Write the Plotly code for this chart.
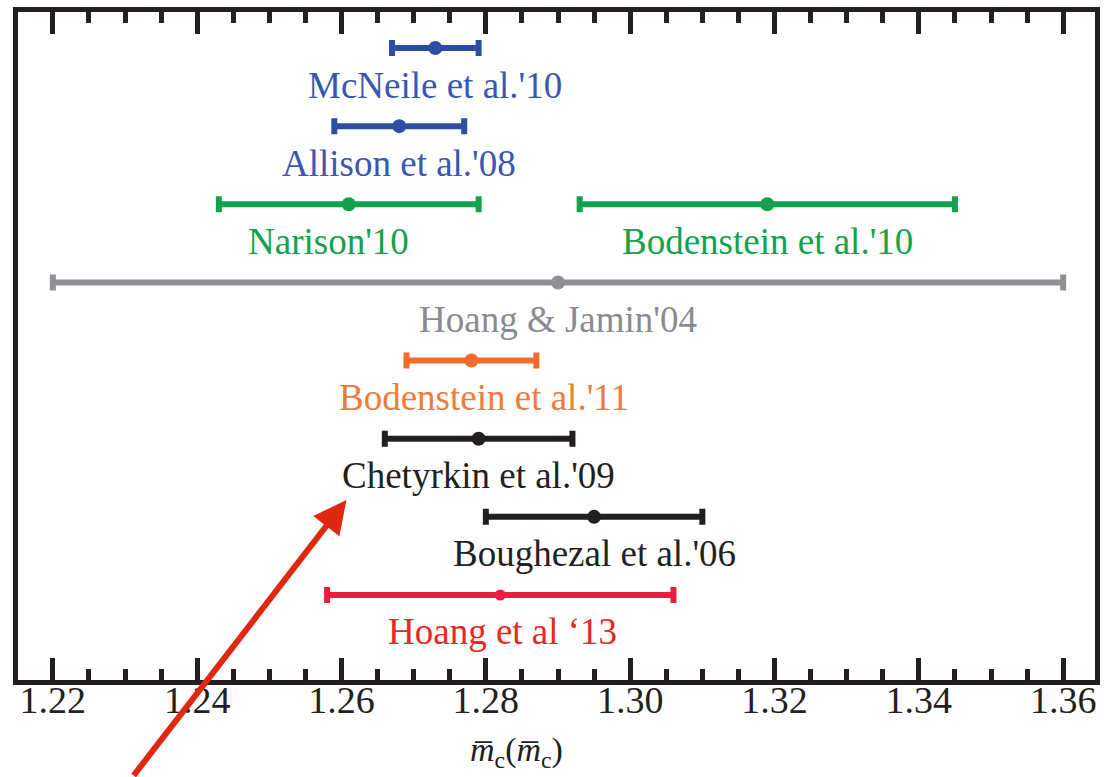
import plotly.graph_objects as go

# ---- data ----
labels = ["McNeile et al.'10", "Allison et al.'08", "Narison'10", "Bodenstein et al.'10",
          "Hoang & Jamin'04", "Bodenstein et al.'11", "Chetyrkin et al.'09",
          "Boughezal et al.'06", "Hoang et al ‘13"]
rows = [0, 1, 2, 2, 3, 4, 5, 6, 7]
centers = [1.273, 1.268, 1.261, 1.319, 1.290, 1.278, 1.279, 1.295, 1.282]
errors = [0.006, 0.009, 0.018, 0.026, 0.070, 0.009, 0.013, 0.015, 0.024]
bar_colors = ["#2e4ea4", "#2e4ea4", "#12a24c", "#12a24c", "#8f8f95",
              "#f26b2a", "#231f20", "#231f20", "#e81e3c"]
text_colors = ["#3a56b0", "#3a56b0", "#12a24c", "#12a24c", "#8a8a90",
               "#f07a3e", "#231f20", "#231f20", "#e8281c"]
label_xshift = [0, 0, -20, 0, 0, 13, 0, 0, 2]
tick_vals = [1.22, 1.24, 1.26, 1.28, 1.30, 1.32, 1.34, 1.36]
tick_text = ["1.22", "1.24", "1.26", "1.28", "1.30", "1.32", "1.34", "1.36"]

FONT = "Liberation Serif"

fig = go.Figure()
for i in range(len(labels)):
    fig.add_trace(go.Scatter(
        x=[centers[i]], y=[rows[i]], mode="markers",
        marker=dict(size=14 if i != 8 else 11, color=bar_colors[i]),
        error_x=dict(type="data", array=[errors[i]], color=bar_colors[i],
                     thickness=6, width=8),
        showlegend=False, hoverinfo="skip"))
    fig.add_annotation(x=centers[i], y=rows[i], text=labels[i], showarrow=False,
                       xshift=label_xshift[i], yshift=-37,
                       font=dict(family=FONT, size=37, color=text_colors[i]),
                       xanchor="center", yanchor="middle")

# dummy trace on top axis so ticks render
fig.add_trace(go.Scatter(x=[centers[0]], y=[rows[0]], xaxis="x2", mode="markers",
                         marker=dict(size=1, opacity=0), showlegend=False, hoverinfo="skip"))

xrange_ = [1.21517, 1.36441]
axis_common = dict(range=xrange_, tickvals=tick_vals, ticks="inside", ticklen=22,
                   tickwidth=4.5, tickcolor="#231f20",
                   minor=dict(dtick=0.005, tick0=1.22, ticks="inside", ticklen=11,
                              tickwidth=4.5, tickcolor="#231f20", showgrid=False),
                   showgrid=False, zeroline=False)

fig.update_layout(
    width=1104, height=777,
    margin=dict(l=18, r=4, t=12, b=97),
    plot_bgcolor="white", paper_bgcolor="white",
    xaxis=dict(**axis_common, ticktext=tick_text, showline=True, linewidth=5,
               linecolor="#231f20", mirror=True, ticklabelstandoff=-18,
               tickfont=dict(family=FONT, size=38, color="#231f20")),
    xaxis2=dict(**axis_common, overlaying="x", side="top", matches="x",
                showticklabels=False, showline=False),
    yaxis=dict(range=[8.088, -0.461], showticklabels=False, showgrid=False,
               zeroline=False, showline=True, linewidth=5, linecolor="#231f20",
               mirror=True, ticks=""),
)

# x-axis title
fig.add_annotation(xref="paper", yref="paper", x=(519 - 18) / 1082, y=-(752 - 680) / 668,
                   text="<i>m̅</i><sub>c</sub>(<i>m̅</i><sub>c</sub>)", showarrow=False,
                   font=dict(family=FONT, size=34, color="#231f20"),
                   xanchor="center", yanchor="middle")

# red arrow pointing to Chetyrkin et al.'09
fig.add_annotation(xref="paper", yref="paper", x=(348 - 18) / 1082, y=(680 - 500) / 668,
                   ax=-214, ay=280, axref="pixel", ayref="pixel", text="",
                   showarrow=True, arrowhead=2, arrowsize=1.1, arrowwidth=6,
                   arrowcolor="#e02810")

fig.write_html("out.html")
